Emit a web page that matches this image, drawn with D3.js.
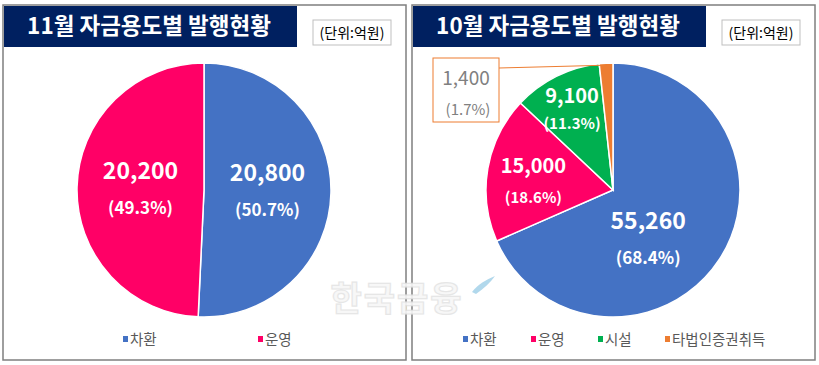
<!DOCTYPE html>
<html>
<head>
<meta charset="utf-8">
<script src="https://cdn.jsdelivr.net/npm/d3@7"></script>
<style>
  body { margin: 0; background: #fff; }
  svg { display: block; font-family: "Noto Sans CJK KR", "Noto Sans", sans-serif; }
</style>
</head>
<body>
<svg id="chart" width="819" height="365"></svg>
<script>
// data
const novCategories = ["차환", "운영"];
const novValues = [20800, 20200];
const novPercents = ["50.7%", "49.3%"];

const octCategories = ["차환", "운영", "시설", "타법인증권취득"];
const octValues = [55260, 15000, 9100, 1400];
const octPercents = ["68.4%", "18.6%", "11.3%", "1.7%"];

const titles = ["11월 자금용도별 발행현황", "10월 자금용도별 발행현황"];
const unitLabel = "(단위:억원)";

const colors = d3.scaleOrdinal()
    .domain(octCategories)
    .range(["#4472C4", "#FF0066", "#00B050", "#ED7D31"]);

const svg = d3.select("#chart");
const fmt = d3.format(",");

function drawPanel(x0, title, categories, values, percents, opts) {
    const g = svg.append("g").attr("transform", `translate(${x0},0)`);

    // frame
    g.append("rect")
        .attr("x", 0).attr("y", 5)
        .attr("width", 403).attr("height", 355)
        .attr("fill", "#fff")
        .attr("stroke", "#7f7f7f")
        .attr("stroke-width", 1.5);

    // title bar
    g.append("rect")
        .attr("x", 1).attr("y", 6)
        .attr("width", 293).attr("height", 41)
        .attr("fill", "#002060");
    g.append("text")
        .attr("x", 146).attr("y", 34)
        .attr("text-anchor", "middle")
        .attr("fill", "#fff")
        .attr("font-size", 22.5)
        .attr("font-weight", "bold")
        .text(title);

    // unit box
    g.append("rect")
        .attr("x", 310).attr("y", 20)
        .attr("width", 78).attr("height", 25)
        .attr("fill", "#fff")
        .attr("stroke", "#bfbfbf")
        .attr("stroke-width", 1);
    g.append("text")
        .attr("x", 349).attr("y", 38)
        .attr("text-anchor", "middle")
        .attr("fill", "#000")
        .attr("font-size", 14)
        .text(unitLabel);

    // pie
    const cx = opts.cx, cy = 190, r = 127;
    const pie = d3.pie().sort(null).value(d => d.value);
    const arc = d3.arc().innerRadius(0).outerRadius(r);
    const data = categories.map((c, i) => ({ name: c, value: values[i], pct: percents[i] }));
    const arcs = pie(data);

    const pg = g.append("g").attr("transform", `translate(${cx},${cy})`);
    pg.selectAll("path")
        .data(arcs)
        .join("path")
        .attr("d", arc)
        .attr("fill", d => colors(d.data.name))
        .attr("stroke", "#fff")
        .attr("stroke-width", 1.5);

    // labels inside slices
    arcs.forEach((a, i) => {
        const lp = opts.labels[i];
        if (!lp) return;
        const labelArc = d3.arc().innerRadius(r * lp.rf).outerRadius(r * lp.rf);
        const [lx, ly] = labelArc.centroid(a);
        pg.append("text")
            .attr("x", lx + lp.dx).attr("y", ly + lp.dy)
            .attr("text-anchor", "middle")
            .attr("fill", "#fff")
            .attr("font-size", lp.size)
            .attr("font-weight", "bold")
            .text(fmt(a.data.value));
        pg.append("text")
            .attr("x", lx + lp.dx).attr("y", ly + lp.dy + lp.gap)
            .attr("text-anchor", "middle")
            .attr("fill", "#fff")
            .attr("font-size", lp.pctSize)
            .attr("font-weight", "bold")
            .text(`(${a.data.pct})`);
    });

    // callout for small slice
    if (opts.callout) {
        const c = opts.callout;
        const a = arcs[c.index];
        const mid = (a.startAngle + a.endAngle) / 2;
        const px = Math.sin(mid) * r, py = -Math.cos(mid) * r;
        pg.append("line")
            .attr("x1", c.bx + c.bw - cx).attr("y1", c.by + 10 - cy)
            .attr("x2", px).attr("y2", py + 2)
            .attr("stroke", "#ED7D31")
            .attr("stroke-width", 1);
        g.append("rect")
            .attr("x", c.bx).attr("y", c.by)
            .attr("width", c.bw).attr("height", c.bh)
            .attr("fill", "#fff")
            .attr("stroke", "#ED7D31")
            .attr("stroke-width", 1);
        g.append("text")
            .attr("x", c.bx + c.bw / 2).attr("y", c.by + 27)
            .attr("text-anchor", "middle")
            .attr("fill", "#808080")
            .attr("font-size", 19)
            .text(fmt(a.data.value));
        g.append("text")
            .attr("x", c.bx + c.bw / 2 + 2).attr("y", c.by + 57)
            .attr("text-anchor", "middle")
            .attr("fill", "#808080")
            .attr("font-size", 15)
            .text(`(${a.data.pct})`);
    }

    // legend
    const lg = g.append("g");
    categories.forEach((c, i) => {
        const lx = opts.legendX[i];
        lg.append("rect")
            .attr("x", lx).attr("y", 336)
            .attr("width", 5).attr("height", 6)
            .attr("fill", colors(c));
        lg.append("text")
            .attr("x", lx + 7).attr("y", 345)
            .attr("fill", "#595959")
            .attr("font-size", 14.5)
            .text(c);
    });
}

drawPanel(3, titles[0], novCategories, novValues, novPercents, {
    cx: 201,
    labels: [
        { rf: 0.5, dx: 0, dy: -10, size: 23, pctSize: 17, gap: 35 },
        { rf: 0.5, dx: 0, dy: -10, size: 23, pctSize: 17, gap: 35 }
    ],
    legendX: [120, 255]
});

drawPanel(412, titles[1], octCategories, octValues, octPercents, {
    cx: 201,
    labels: [
        { rf: 0.5, dx: -18, dy: 4, size: 23, pctSize: 17, gap: 35 },
        { rf: 0.62, dx: -2, dy: -4, size: 20, pctSize: 15, gap: 30 },
        { rf: 0.74, dx: 1, dy: -3, size: 20, pctSize: 15, gap: 26 },
        null
    ],
    callout: { index: 3, bx: 21, by: 58, bw: 66, bh: 64 },
    legendX: [51, 119, 186, 253]
});

// watermark
const wm = svg.append("g").attr("opacity", 0.9);
wm.append("text")
    .attr("x", 397).attr("y", 311)
    .attr("text-anchor", "middle")
    .attr("font-size", 34)
    .attr("font-weight", "bold")
    .attr("fill", "#f7f7f7")
    .attr("stroke", "#e4e4e4")
    .attr("stroke-width", 1.2)
    .attr("letter-spacing", 2)
    .text("한국금융");
wm.append("path")
    .attr("d", "M472,292 C478,284 486,280 495,276 C490,283 484,288 476,294 Z")
    .attr("fill", "#a9d4ea");
</script>
</body>
</html>
